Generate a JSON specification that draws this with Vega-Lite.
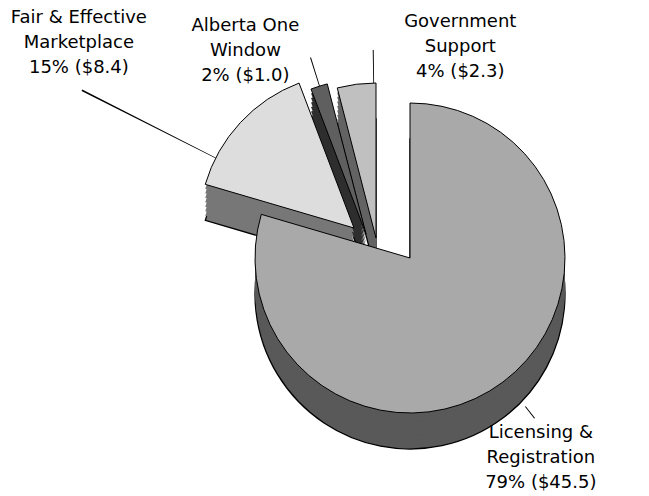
{
  "$schema": "https://vega.github.io/schema/vega-lite/v6.json",
  "width": 400,
  "height": 400,
  "autosize": {"type": "none"},
  "padding": {"left": 210, "top": 58, "right": 39, "bottom": 38},
  "background": "white",
  "config": {"view": {"stroke": null}},
  "data": {
    "values": [
      {"order": 1, "category": "Licensing & Registration", "amount": 45.5, "label": "Licensing &\nRegistration\n79% ($45.5)"},
      {"order": 2, "category": "Fair & Effective Marketplace", "amount": 8.4, "label": "Fair & Effective\nMarketplace\n15% ($8.4)"},
      {"order": 3, "category": "Alberta One Window", "amount": 1.0, "label": "Alberta One\nWindow\n2% ($1.0)"},
      {"order": 4, "category": "Government Support", "amount": 2.3, "label": "Government\nSupport\n4% ($2.3)"}
    ]
  },
  "layer": [
    {
      "mark": {"type": "arc", "radius": 155, "stroke": "#000000", "strokeWidth": 1.3,
        "fill": {"expr": "['', '#595959', '#777777', '#2e2e2e', '#636363'][datum.order]"},
        "xOffset": {"expr": "[0, 0, -56, -44, -34][datum.order]"},
        "yOffset": {"expr": "[0, 0, -30, -24, -20][datum.order] + 36"}},
      "encoding": {"theta": {"field": "amount", "type": "quantitative", "stack": true}, "order": {"field": "order", "type": "quantitative"}}
    },
    {
      "mark": {"type": "arc", "radius": 155,
        "fill": {"expr": "['', '#595959', '#777777', '#2e2e2e', '#636363'][datum.order]"},
        "xOffset": {"expr": "[0, 0, -56, -44, -34][datum.order]"},
        "yOffset": {"expr": "[0, 0, -30, -24, -20][datum.order] + 31.5"}},
      "encoding": {"theta": {"field": "amount", "type": "quantitative", "stack": true}, "order": {"field": "order", "type": "quantitative"}}
    },
    {
      "mark": {"type": "arc", "radius": 155,
        "fill": {"expr": "['', '#595959', '#777777', '#2e2e2e', '#636363'][datum.order]"},
        "xOffset": {"expr": "[0, 0, -56, -44, -34][datum.order]"},
        "yOffset": {"expr": "[0, 0, -30, -24, -20][datum.order] + 27"}},
      "encoding": {"theta": {"field": "amount", "type": "quantitative", "stack": true}, "order": {"field": "order", "type": "quantitative"}}
    },
    {
      "mark": {"type": "arc", "radius": 155,
        "fill": {"expr": "['', '#595959', '#777777', '#2e2e2e', '#636363'][datum.order]"},
        "xOffset": {"expr": "[0, 0, -56, -44, -34][datum.order]"},
        "yOffset": {"expr": "[0, 0, -30, -24, -20][datum.order] + 22.5"}},
      "encoding": {"theta": {"field": "amount", "type": "quantitative", "stack": true}, "order": {"field": "order", "type": "quantitative"}}
    },
    {
      "mark": {"type": "arc", "radius": 155,
        "fill": {"expr": "['', '#595959', '#777777', '#2e2e2e', '#636363'][datum.order]"},
        "xOffset": {"expr": "[0, 0, -56, -44, -34][datum.order]"},
        "yOffset": {"expr": "[0, 0, -30, -24, -20][datum.order] + 18"}},
      "encoding": {"theta": {"field": "amount", "type": "quantitative", "stack": true}, "order": {"field": "order", "type": "quantitative"}}
    },
    {
      "mark": {"type": "arc", "radius": 155,
        "fill": {"expr": "['', '#595959', '#777777', '#2e2e2e', '#636363'][datum.order]"},
        "xOffset": {"expr": "[0, 0, -56, -44, -34][datum.order]"},
        "yOffset": {"expr": "[0, 0, -30, -24, -20][datum.order] + 13.5"}},
      "encoding": {"theta": {"field": "amount", "type": "quantitative", "stack": true}, "order": {"field": "order", "type": "quantitative"}}
    },
    {
      "mark": {"type": "arc", "radius": 155,
        "fill": {"expr": "['', '#595959', '#777777', '#2e2e2e', '#636363'][datum.order]"},
        "xOffset": {"expr": "[0, 0, -56, -44, -34][datum.order]"},
        "yOffset": {"expr": "[0, 0, -30, -24, -20][datum.order] + 9"}},
      "encoding": {"theta": {"field": "amount", "type": "quantitative", "stack": true}, "order": {"field": "order", "type": "quantitative"}}
    },
    {
      "mark": {"type": "arc", "radius": 155,
        "fill": {"expr": "['', '#595959', '#777777', '#2e2e2e', '#636363'][datum.order]"},
        "xOffset": {"expr": "[0, 0, -56, -44, -34][datum.order]"},
        "yOffset": {"expr": "[0, 0, -30, -24, -20][datum.order] + 4.5"}},
      "encoding": {"theta": {"field": "amount", "type": "quantitative", "stack": true}, "order": {"field": "order", "type": "quantitative"}}
    },
    {
      "mark": {"type": "arc", "radius": 155, "stroke": "#000000", "strokeWidth": 1,
        "fill": {"expr": "['', '#a9a9a9', '#dddddd', '#5f5f5f', '#c0c0c0'][datum.order]"},
        "xOffset": {"expr": "[0, 0, -56, -44, -34][datum.order]"},
        "yOffset": {"expr": "[0, 0, -30, -24, -20][datum.order]"}},
      "encoding": {"theta": {"field": "amount", "type": "quantitative", "stack": true}, "order": {"field": "order", "type": "quantitative"}}
    },
    {
      "mark": {"type": "arc", "fill": "#000000",
        "radius": {"expr": "[0, 203, 305, 185, 188][datum.order]"},
        "radius2": {"expr": "[0, 188, 155, 155, 155][datum.order]"},
        "theta": {"expr": "[0, 2.4784, 5.1784, 5.9760, 6.2657][datum.order]"},
        "theta2": {"expr": "[0, 2.4836, 5.1836, 5.9812, 6.2709][datum.order]"},
        "xOffset": {"expr": "[0, 0, -56, -44, -34][datum.order]"},
        "yOffset": {"expr": "[0, 0, -30, -24, -20][datum.order]"}},
      "encoding": {}
    },
    {
      "mark": {"type": "text", "font": "DejaVu Sans", "fontSize": 18, "color": "#000000",
        "lineBreak": "\n", "align": "center", "baseline": "middle", "lineHeight": 25,
        "radius": {"expr": "[0, 250, 300, 230, 220][datum.order]"},
        "dx": {"expr": "[0, -19, -111, -95, 78][datum.order]"},
        "dy": {"expr": "[0, -25, -36, -13, -18][datum.order]"}},
      "encoding": {
        "theta": {"field": "amount", "type": "quantitative", "stack": true},
        "order": {"field": "order", "type": "quantitative"},
        "text": {"field": "label"}
      }
    }
  ]
}
